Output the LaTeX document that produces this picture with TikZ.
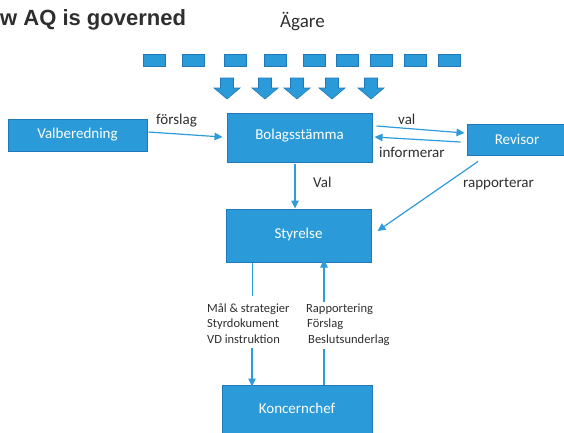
\documentclass[tikz,border=0pt]{standalone}
\usepackage{fontspec}
\setmainfont{Carlito}
\newfontfamily\titlefont{Liberation Sans}
\usetikzlibrary{arrows.meta}
\definecolor{boxblue}{HTML}{2A9BD8}
\definecolor{boxedge}{HTML}{2178B8}
\definecolor{lineblue}{HTML}{2E9BDA}
\definecolor{txt}{HTML}{2E2E2E}
\tikzset{
  box/.style={draw=boxedge, fill=boxblue, line width=1pt, text=white, inner sep=0pt,
    font=\fontsize{15}{18}\selectfont},
  owner/.style={draw=boxedge, fill=boxblue, line width=0.8pt},
  blockarrow/.style={draw=boxedge, fill=boxblue, line width=0.6pt, line join=miter},
  conn/.style={draw=lineblue, line width=1.2pt},
  arr/.style={conn, -{Triangle[length=8pt,width=7.5pt]}},
  lbl/.style={text=txt, inner sep=0pt, anchor=base west, font=\fontsize{15}{18}\selectfont},
  small/.style={text=txt, inner sep=0pt, anchor=base west, font=\fontsize{12.5}{15}\selectfont},
}
\begin{document}
\begin{tikzpicture}[x=1pt,y=-1pt]
\useasboundingbox (0,0) rectangle (564,432);

% title and owner label
\node[inner sep=0pt, anchor=base west, text=txt, font=\titlefont\bfseries\fontsize{22}{26}\selectfont] (title) at (0,25) {w AQ is governed};
\node[inner sep=0pt, anchor=base west, text=txt, font=\fontsize{19}{22}\selectfont] (agare) at (280,27) {Ägare};

% owner rectangles
\foreach \x in {143,182,224,264,303,336,370,404,438}{
  \draw[owner] (\x,54) rectangle ++(22,12.5);
}
% block arrows
\foreach \c in {227,265,297,332,371}{
  \draw[blockarrow] (\c-6.5,78) -- (\c+6.5,78) -- (\c+6.5,88) -- (\c+13,88) -- (\c,99)
     -- (\c-13,88) -- (\c-6.5,88) -- cycle;
}

% boxes
\node[box, minimum width=139pt, minimum height=32pt] (vb) at (77.5,135) {Valberedning};
\node[box, minimum width=145pt, minimum height=49pt] (bs) at (299.5,137.5) {\raisebox{6pt}{Bolagsstämma}};
\node[box, minimum width=100pt, minimum height=31pt] (rv) at (517,139.5) {Revisor};
\node[box, minimum width=145pt, minimum height=53pt] (sty) at (298.5,235.5) {\raisebox{5pt}{Styrelse}};
\node[box, minimum width=150pt, minimum height=53pt] (kc) at (297,411.5) {\raisebox{6pt}{Koncernchef}};

% connectors
\draw[arr] ([shift={(1,-3)}]vb.east) -- ([shift={(-4,-0.5)}]bs.west);
\draw[arr] ([shift={(4,-11.5)}]bs.east) -- ([shift={(-2,-6.5)}]rv.west);
\draw[arr] ([shift={(-6,2.5)}]rv.west) -- ([shift={(2,-0.5)}]bs.east);
\draw[arr] ([shift={(-4.5,1)}]bs.south) -- ([shift={(-3.5,0)}]sty.north);
\draw[arr] ([shift={(-39,6)}]rv.south) -- ([shift={(6,-4.5)}]sty.east);

\coordinate (d1) at (252,296);
\coordinate (d2) at (252,348);
\coordinate (u1) at (324,349);
\coordinate (u2) at (324,302);
\draw[conn, line width=0.9pt] (sty.south -| d1) -- (d1);
\draw[arr] (d2) -- ([yshift=-2]kc.north -| d2);
\draw[conn] (kc.north -| u1) -- (u1);
\draw[arr] (u2) -- ([yshift=3]sty.south -| u2);

% labels
\node[lbl] (l1) at (156,124) {förslag};
\node[lbl] (l2) at (398,124) {val};
\node[lbl] (l3) at (379,157) {informerar};
\node[lbl] (l4) at (313,187) {Val};
\node[lbl] (l5) at (463,187) {rapporterar};

\node[small] (m1) at (207,312) {Mål \& strategier};
\node[small] (m2) at (207,327.5) {Styrdokument};
\node[small] (m3) at (207,343) {VD instruktion};
\node[small] (r1) at (306,312) {Rapportering};
\node[small] (r2) at (307,327.5) {Förslag};
\node[small] (r3) at (308,343) {Beslutsunderlag};
\end{tikzpicture}
\end{document}
